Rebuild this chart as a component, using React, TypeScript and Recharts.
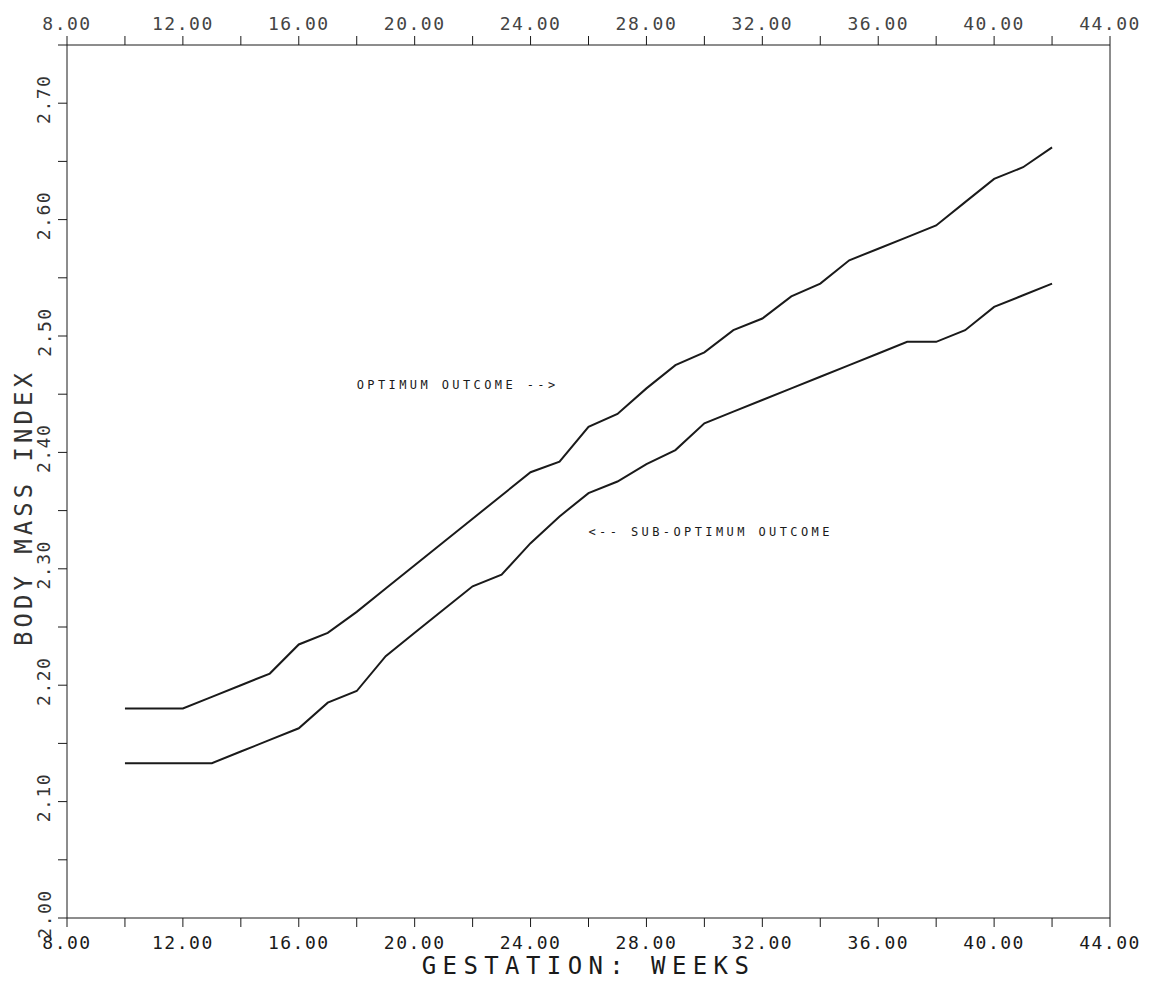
import { LineChart, Line, XAxis, YAxis, ReferenceDot } from 'recharts';

// gestation week for each plotted point
const weeks = [10, 11, 12, 13, 14, 15, 16, 17, 18, 19, 20, 21, 22, 23, 24, 25, 26, 27, 28, 29, 30, 31, 32, 33, 34, 35, 36, 37, 38, 39, 40, 41, 42];

// body mass index, optimum outcome (upper curve)
const optimum = [2.18, 2.18, 2.18, 2.19, 2.2, 2.21, 2.235, 2.245, 2.263, 2.283, 2.303, 2.323, 2.343, 2.363, 2.383, 2.392, 2.422, 2.433, 2.455, 2.475, 2.486, 2.505, 2.515, 2.534, 2.545, 2.565, 2.575, 2.585, 2.595, 2.615, 2.635, 2.645, 2.662];

// body mass index, sub-optimum outcome (lower curve)
const subOptimum = [2.133, 2.133, 2.133, 2.133, 2.143, 2.153, 2.163, 2.185, 2.195, 2.225, 2.245, 2.265, 2.285, 2.295, 2.322, 2.345, 2.365, 2.375, 2.39, 2.402, 2.425, 2.435, 2.445, 2.455, 2.465, 2.475, 2.485, 2.495, 2.495, 2.505, 2.525, 2.535, 2.545];

const xTicks = [8, 10, 12, 14, 16, 18, 20, 22, 24, 26, 28, 30, 32, 34, 36, 38, 40, 42, 44];
const yTicks = [2.0, 2.05, 2.1, 2.15, 2.2, 2.25, 2.3, 2.35, 2.4, 2.45, 2.5, 2.55, 2.6, 2.65, 2.7, 2.75];

const data = weeks.map((w, i) => ({ week: w, optimum: optimum[i], sub: subOptimum[i] }));

const MONO = '"DejaVu Sans Mono", "Liberation Mono", monospace';
const INK = '#1a1a1a';

const xLabel = (v: number) => (v % 4 === 0 ? v.toFixed(2) : '');
const yLabel = (v: number) => (Math.round(v * 100) % 10 === 0 ? v.toFixed(2) : '');

const BottomTick = ({ x, y, payload }: any) => (
  <text x={x} y={y + 15} textAnchor="middle" dominantBaseline="central" fontFamily={MONO} fontSize={18} letterSpacing={1.5} fill={INK}>
    {xLabel(payload.value)}
  </text>
);

const TopTick = ({ x, y, payload }: any) => (
  <text x={x} y={y - 13} textAnchor="middle" dominantBaseline="central" fontFamily={MONO} fontSize={18} letterSpacing={1.5} fill="#444">
    {xLabel(payload.value)}
  </text>
);

const LeftTick = ({ x, y, payload }: any) => {
  const cx = x - 14;
  const cy = y - 4;
  return (
    <text x={cx} y={cy} transform={`rotate(-90 ${cx} ${cy})`} textAnchor="middle" dominantBaseline="central" fontFamily={MONO} fontSize={18} letterSpacing={1.5} fill="#333">
      {yLabel(payload.value)}
    </text>
  );
};

const RightTick = ({ x, y, payload }: any) => {
  const cx = x + 15;
  const cy = y - 4;
  return (
    <text x={cx} y={cy} transform={`rotate(-90 ${cx} ${cy})`} textAnchor="middle" dominantBaseline="central" fontFamily={MONO} fontSize={18} letterSpacing={1.5} fill="#333">
      {yLabel(payload.value)}
    </text>
  );
};

const note = (text: string) => ({ viewBox }: any) => (
  <text x={viewBox.x} y={viewBox.y} dominantBaseline="central" fontFamily={MONO} fontSize={12} letterSpacing={3.4} fill={INK}>
    {text}
  </text>
);

export default function App() {
  return (
    <div style={{ position: 'absolute', left: 0, top: 0, width: 1154, height: 981, background: '#fff' }}>
      <LineChart width={1154} height={981} data={data} margin={{ top: 0, right: 0, bottom: 0, left: 0 }}>
        <XAxis
          xAxisId="b"
          dataKey="week"
          type="number"
          domain={[8, 44]}
          ticks={xTicks}
          height={63}
          stroke={INK}
          tickSize={9}
          tickMargin={0}
          tick={<BottomTick />}
          label={{
            content: ({ viewBox }: any) => (
              <text x={viewBox.x + viewBox.width / 2} y={viewBox.y + 48} textAnchor="middle" dominantBaseline="central" fontFamily={MONO} fontSize={24} letterSpacing={6.4} fill={INK}>
                GESTATION: WEEKS
              </text>
            ),
          }}
        />
        <XAxis
          xAxisId="t"
          orientation="top"
          dataKey="week"
          type="number"
          domain={[8, 44]}
          ticks={xTicks}
          height={45}
          stroke={INK}
          tickSize={9}
          tickMargin={0}
          tick={<TopTick />}
        />
        <YAxis
          yAxisId="l"
          type="number"
          domain={[2, 2.75]}
          ticks={yTicks}
          width={67}
          stroke={INK}
          tickSize={9}
          tickMargin={0}
          tick={<LeftTick />}
          label={{
            content: ({ viewBox }: any) => {
              const cx = 24;
              const cy = viewBox.y + viewBox.height / 2 + 26;
              return (
                <text x={cx} y={cy} transform={`rotate(-90 ${cx} ${cy})`} textAnchor="middle" dominantBaseline="central" fontFamily={MONO} fontSize={24} letterSpacing={4} fill="#333">
                  BODY MASS INDEX
                </text>
              );
            },
          }}
        />
        <YAxis
          yAxisId="r"
          orientation="right"
          type="number"
          domain={[2, 2.75]}
          ticks={yTicks}
          width={44}
          stroke={INK}
          tickSize={9}
          tickMargin={0}
          tick={<RightTick />}
        />
        <Line xAxisId="b" yAxisId="l" type="linear" dataKey="optimum" stroke={INK} strokeWidth={2} dot={false} isAnimationActive={false} />
        <Line xAxisId="b" yAxisId="l" type="linear" dataKey="sub" stroke={INK} strokeWidth={2} dot={false} isAnimationActive={false} />
        <ReferenceDot xAxisId="b" yAxisId="l" x={18} y={2.458} r={0} fill="none" stroke="none" label={{ content: note('OPTIMUM OUTCOME -->') }} />
        <ReferenceDot xAxisId="b" yAxisId="l" x={26} y={2.332} r={0} fill="none" stroke="none" label={{ content: note('<-- SUB-OPTIMUM OUTCOME') }} />
      </LineChart>
    </div>
  );
}
